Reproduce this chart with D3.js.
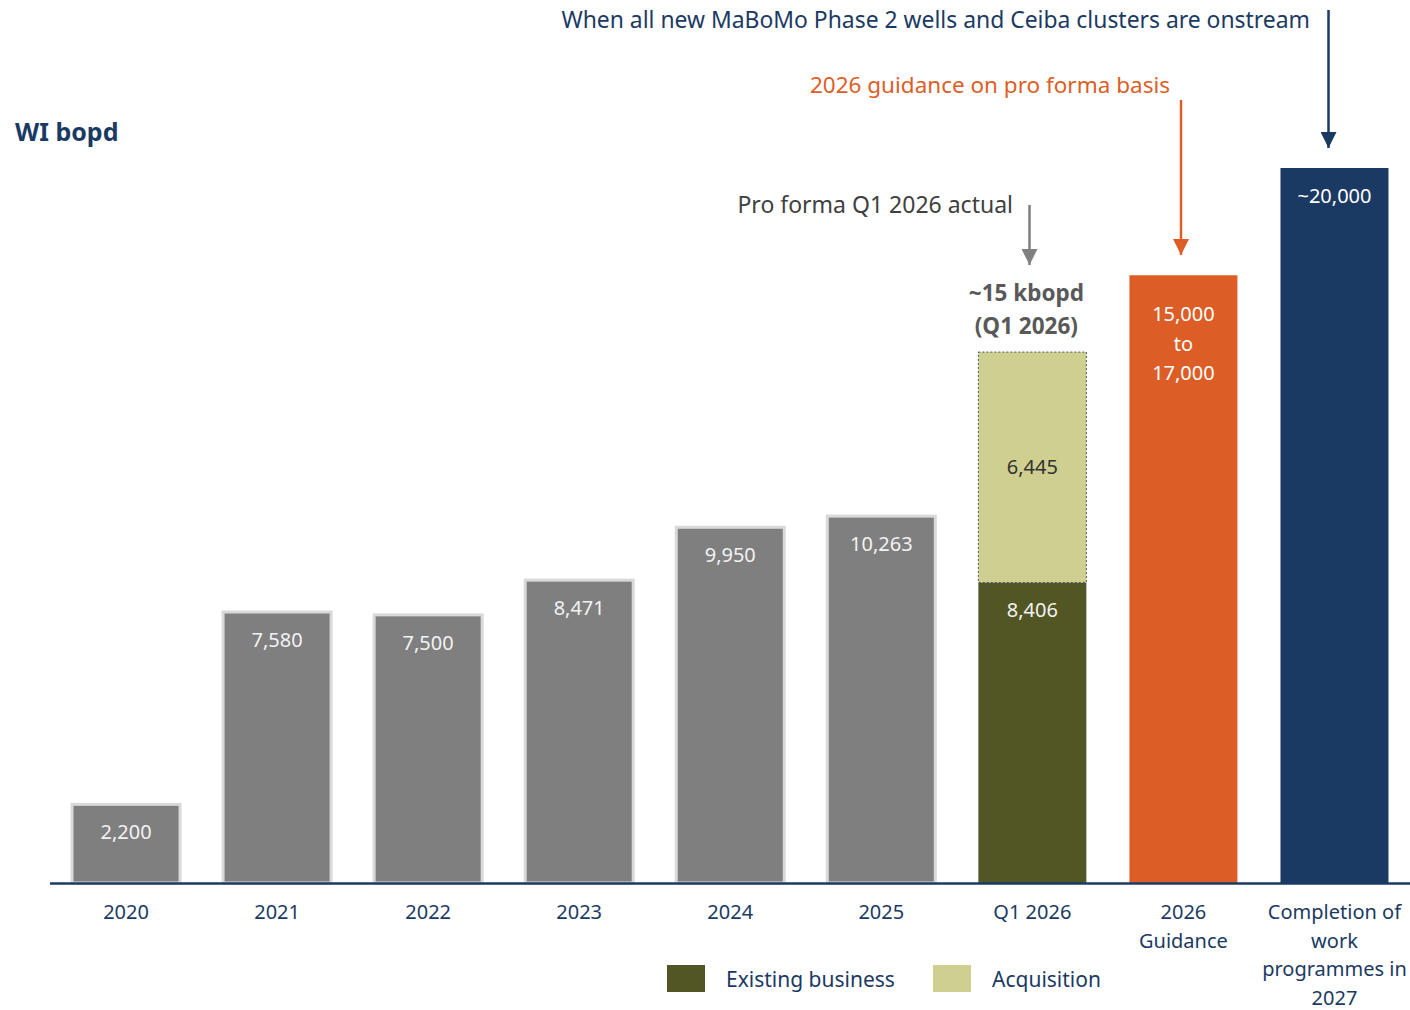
<!DOCTYPE html>
<html><head><meta charset="utf-8">
<script src="https://cdn.jsdelivr.net/npm/d3@7"></script>
<style>body{margin:0;background:#fff;} svg{display:block;font-family:"Noto Sans",Inter,sans-serif;}</style>
</head><body><svg id="c" width="1410" height="1010"></svg>
<script>
const categories = ["2020","2021","2022","2023","2024","2025","Q1 2026","2026 Guidance","Completion of work programmes in 2027"];
const categoryLines = [["2020"],["2021"],["2022"],["2023"],["2024"],["2025"],["Q1 2026"],["2026","Guidance"],["Completion of","work","programmes in","2027"]];
const historicYears = ["2020","2021","2022","2023","2024","2025"];
const historicValues = [2200,7580,7500,8471,9950,10263];
const existingBusiness = 8406;
const acquisition = 6445;
const guidanceRange = [15000,17000];
const target2027 = 20000;
const legendItems = ["Existing business","Acquisition"];

const NAVY="#1b3a63", GRAY="#7f7f7f", OLIVE="#525625", KHAKI="#cfcf90", ORANGE="#dc5e26";
const svg=d3.select("#c");
const x=d3.scaleBand().domain(categories).range([50.5,1410]).paddingInner(0.285).paddingOuter(0.1425);
const y=d3.scaleLinear().domain([0,20000]).range([883,168]);
const fmt=d3.format(",");

const defs=svg.append("defs");
function marker(id,color){
  defs.append("marker").attr("id",id).attr("viewBox","0 0 16 16").attr("refX",8).attr("refY",16)
   .attr("markerWidth",16).attr("markerHeight",16).attr("markerUnits","userSpaceOnUse").attr("orient","0")
   .append("path").attr("d","M0,0L16,0L8,16Z").attr("fill",color);
}
marker("mN",NAVY); marker("mO",ORANGE); marker("mG","#808080");

// historic bars
svg.selectAll(".hb").data(historicYears).join("rect")
 .attr("x",d=>x(d)).attr("width",x.bandwidth())
 .attr("y",(d,i)=>y(historicValues[i])).attr("height",(d,i)=>y(0)-y(historicValues[i]))
 .attr("fill",GRAY).attr("stroke","#d9d9d9").attr("stroke-width",3);
svg.selectAll(".hl").data(historicYears).join("text")
 .attr("x",d=>x(d)+x.bandwidth()/2).attr("y",(d,i)=>y(historicValues[i])+35)
 .attr("text-anchor","middle").attr("fill","#f2f2f2").attr("font-size",20)
 .text((d,i)=>fmt(historicValues[i]));

// Q1 2026 stacked
const q="Q1 2026";
svg.append("rect").attr("x",x(q)).attr("width",x.bandwidth()).attr("y",y(existingBusiness)).attr("height",y(0)-y(existingBusiness)).attr("fill",OLIVE);
svg.append("rect").attr("x",x(q)).attr("width",x.bandwidth()).attr("y",y(existingBusiness+acquisition)).attr("height",y(existingBusiness)-y(existingBusiness+acquisition))
 .attr("fill",KHAKI).attr("stroke","#44546a").attr("stroke-width",1).attr("stroke-dasharray","2,2");
svg.append("text").attr("x",x(q)+x.bandwidth()/2).attr("y",y(existingBusiness)+35).attr("text-anchor","middle").attr("fill","#f2f2f2").attr("font-size",20).text(fmt(existingBusiness));
svg.append("text").attr("x",x(q)+x.bandwidth()/2).attr("y",(y(existingBusiness)+y(existingBusiness+acquisition))/2+7).attr("text-anchor","middle").attr("fill","#333").attr("font-size",20).text(fmt(acquisition));
svg.append("text").attr("x",x(q)+x.bandwidth()/2-6).attr("y",y(existingBusiness+acquisition)-51).attr("text-anchor","middle").attr("fill","#595959").attr("font-size",22.5).attr("font-weight","bold").text("~15 kbopd");
svg.append("text").attr("x",x(q)+x.bandwidth()/2-6).attr("y",y(existingBusiness+acquisition)-18).attr("text-anchor","middle").attr("fill","#595959").attr("font-size",22.5).attr("font-weight","bold").text("(Q1 2026)");

// Guidance bar
const g="2026 Guidance";
svg.append("rect").attr("x",x(g)).attr("width",x.bandwidth()).attr("y",y(guidanceRange[1])).attr("height",y(0)-y(guidanceRange[1])).attr("fill",ORANGE);
[fmt(guidanceRange[0]),"to",fmt(guidanceRange[1])].forEach((t,i)=>{
 svg.append("text").attr("x",x(g)+x.bandwidth()/2).attr("y",y(guidanceRange[1])+46+i*29.5).attr("text-anchor","middle").attr("fill","#fff").attr("font-size",20).text(t);
});

// 2027 bar
const c=categories[8];
svg.append("rect").attr("x",x(c)).attr("width",x.bandwidth()).attr("y",y(target2027)).attr("height",y(0)-y(target2027)).attr("fill",NAVY);
svg.append("text").attr("x",x(c)+x.bandwidth()/2).attr("y",y(target2027)+35).attr("text-anchor","middle").attr("fill","#fff").attr("font-size",20).text("~"+fmt(target2027));

// baseline
svg.append("line").attr("x1",50).attr("x2",1410).attr("y1",y(0)+0.5).attr("y2",y(0)+0.5).attr("stroke",NAVY).attr("stroke-width",2.5);

// x labels
categories.forEach((cat,i)=>{
 categoryLines[i].forEach((ln,j)=>{
  svg.append("text").attr("x",x(cat)+x.bandwidth()/2).attr("y",919+j*28.6).attr("text-anchor","middle").attr("fill",NAVY).attr("font-size",20).text(ln);
 });
});

// title
svg.append("text").attr("x",15).attr("y",141).attr("fill",NAVY).attr("font-size",25).attr("font-weight","bold").text("WI bopd");

// annotations
svg.append("text").attr("x",1310).attr("y",28).attr("text-anchor","end").attr("fill",NAVY).attr("font-size",22.9).text("When all new MaBoMo Phase 2 wells and Ceiba clusters are onstream");
svg.append("line").attr("x1",1328.5).attr("x2",1328.5).attr("y1",10).attr("y2",148).attr("stroke",NAVY).attr("stroke-width",2.5).attr("marker-end","url(#mN)");
svg.append("text").attr("x",1170).attr("y",93).attr("text-anchor","end").attr("fill",ORANGE).attr("font-size",22.5).text("2026 guidance on pro forma basis");
svg.append("line").attr("x1",1181).attr("x2",1181).attr("y1",100).attr("y2",255).attr("stroke",ORANGE).attr("stroke-width",2.5).attr("marker-end","url(#mO)");
svg.append("text").attr("x",1013).attr("y",213).attr("text-anchor","end").attr("fill","#404040").attr("font-size",23).text("Pro forma Q1 2026 actual");
svg.append("line").attr("x1",1029.5).attr("x2",1029.5).attr("y1",205).attr("y2",265).attr("stroke","#808080").attr("stroke-width",2.5).attr("marker-end","url(#mG)");

// legend
const lx=[667,933], tx=[726,992], lc=[OLIVE,KHAKI];
legendItems.forEach((t,i)=>{
 svg.append("rect").attr("x",lx[i]).attr("y",965).attr("width",38).attr("height",27).attr("fill",lc[i]);
 svg.append("text").attr("x",tx[i]).attr("y",987).attr("fill",NAVY).attr("font-size",21).text(t);
});
</script></body></html>
